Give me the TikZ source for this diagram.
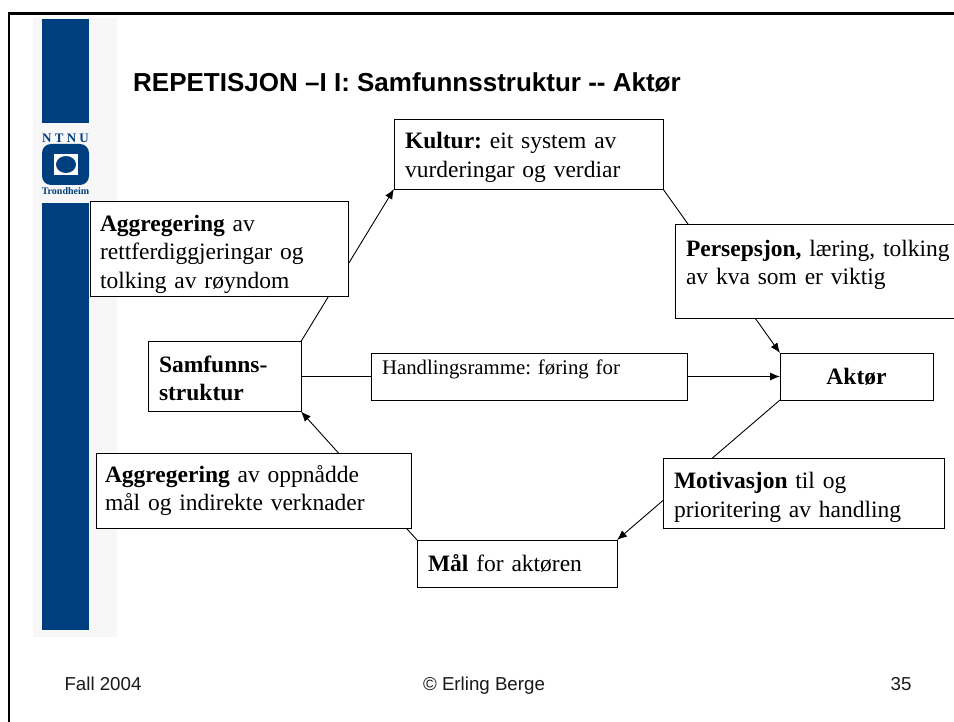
\documentclass[tikz,border=0pt]{standalone}
\usepackage{fontspec}
\setmainfont{Liberation Serif}
\setsansfont{Liberation Sans}
\usepackage{xcolor}
\usetikzlibrary{arrows.meta}
\definecolor{ntnu}{HTML}{003F7F}
\definecolor{strip}{HTML}{F7F7F7}
\pgfdeclarelayer{base}
\pgfdeclarelayer{links}
\pgfsetlayers{base,links,main}
\tikzset{
  tbox/.style={draw=black, fill=white, line width=0.9pt, anchor=north west, align=left, inner xsep=11pt, inner ysep=0pt, outer sep=0pt, font=\fontsize{23.5}{28.3}\selectfont},
  drop/.style={text height=#1},
  link/.style={draw=black, line width=0.9pt},
  arr/.style={link, -{Latex[length=10pt,width=8pt]}},
  foot/.style={anchor=base, inner sep=0pt, font=\sffamily\fontsize{18.7}{22}\selectfont, text=black!90},
  logo/.style={text=ntnu, inner sep=0pt}
}
\frenchspacing
\begin{document}
\begin{tikzpicture}[x=1pt, y=-1pt, line cap=butt]
  \useasboundingbox (0,0) rectangle (954,722);
  % frame and left strip
  \begin{pgfonlayer}{base}
    \fill[white] (0,0) rectangle (954,722);
    \draw[black, line width=2.6pt] (9,722) -- (9,13.5) -- (954,13.5);
    \fill[strip] (33,18) rectangle (117,637);
    \fill[ntnu] (42,19) rectangle (89,123);
    \fill[ntnu] (42,203) rectangle (89,630);
    \fill[ntnu, rounded corners=9pt] (42,144) rectangle (89,185);
    \fill[white] (54,154) rectangle (78,175);
    \fill[ntnu] (66,164.5) ellipse (10pt and 8.5pt);
  \end{pgfonlayer}
  \node[logo, font=\fontsize{13}{15}\selectfont\bfseries] (ntnutxt) at (65.5,138) {N T N U};
  \node[logo, font=\fontsize{10}{12}\selectfont\bfseries] (trondheim) at (65.5,191) {Trondheim};
  % title
  \node[anchor=base west, inner sep=0pt, font=\sffamily\bfseries\fontsize{26}{30}\selectfont] (title) at (133,92) {REPETISJON --I I: Samfunnsstruktur -{}- Aktør};
  % boxes
  \node[tbox, text width=247pt, minimum height=70pt, drop=23pt] (kultur) at (394,119) {\textbf{Kultur:} eit system av\\vurderingar og verdiar};
  \node[tbox, text width=238pt, minimum height=95pt, inner xsep=10pt, drop=28pt] (aggtop) at (90,201) {\textbf{Aggregering} av\\rettferdiggjeringar og\\tolking av røyndom};
  \node[tbox, text width=268pt, minimum height=94pt, drop=28pt] (persepsjon) at (675,224) {\textbf{Persepsjon,} læring, tolking\\av kva som er viktig\\\mbox{}};
  \node[tbox, text width=131pt, minimum height=70pt, drop=20pt] (samfunn) at (148,341.5) {\textbf{Samfunns-}\\\textbf{struktur}};
  \node[tbox, text width=294pt, minimum height=47pt, drop=20pt, font=\fontsize{20.8}{22}\selectfont] (ramme) at (371,353) {Handlingsramme: føring for\\[3pt]\mbox{}};
  \node[tbox, text width=131pt, minimum height=47pt, align=center] (aktor) at (780,353) {\textbf{Aktør}};
  \node[tbox, text width=297pt, minimum height=75pt, inner xsep=9pt] (aggbot) at (96,453) {\textbf{Aggregering} av oppnådde\\mål og indirekte verknader};
  \node[tbox, text width=259pt, minimum height=70pt, drop=24pt] (motivasjon) at (663,458.5) {\textbf{Motivasjon} til og\\prioritering av handling};
  \node[tbox, text width=178pt, minimum height=47pt] (maal) at (417,540) {\textbf{Mål} for aktøren};
  % connectors run behind the boxes
  \begin{pgfonlayer}{links}
    \draw[arr] (samfunn.north east) -- (kultur.south west);
    \draw[arr] (kultur.south east) -- (aktor.north west);
    \draw[arr] (samfunn.east) -- (aktor.west);
    \draw[arr] (aktor.south west) -- (maal.north east);
    \draw[arr] (maal.north west) -- (samfunn.south east);
  \end{pgfonlayer}
  % footer
  \node[foot] (fall) at (103,690) {Fall 2004};
  \node[foot] (copy) at (484,690) {© Erling Berge};
  \node[foot] (page) at (901,690) {35};
\end{tikzpicture}
\end{document}
